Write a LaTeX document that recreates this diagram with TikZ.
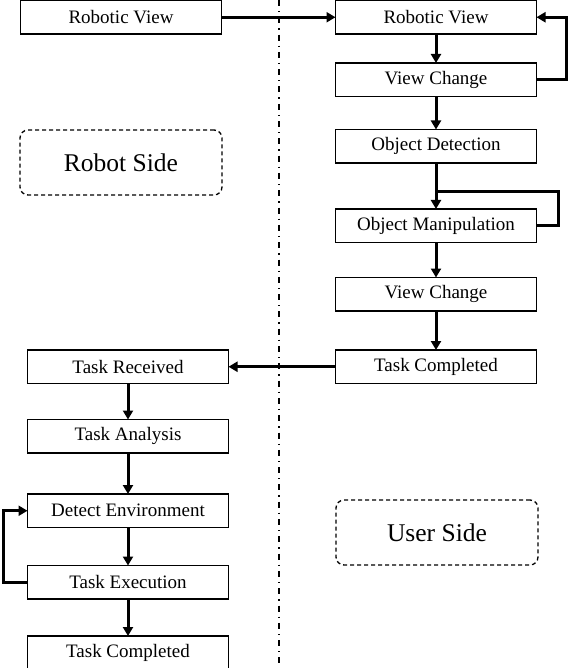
\documentclass[tikz,border=0pt]{standalone}
\usepackage{fontspec}
\setmainfont{Liberation Serif}
\usetikzlibrary{arrows.meta,positioning}

\begin{document}
\begin{tikzpicture}
    [x=1pt,y=-1pt,
    stage/.style={rectangle,draw=black,line width=1.3pt,outer sep=0pt,
    inner sep=0pt,minimum width=201pt,minimum height=33.5pt,
    font=\fontsize{19}{21}\selectfont},
    side/.style={rectangle,rounded corners=8pt,draw=black,line width=1.3pt,
    dash pattern=on 4pt off 3pt,inner sep=0pt,minimum width=202pt,
    minimum height=65pt,font=\fontsize{25.5}{29}\selectfont},
    flow/.style={-{Triangle[length=9pt,width=10pt]},line width=3pt},
    backline/.style={line width=3pt}]
    \useasboundingbox (0,0) rectangle (570,668);
    \draw[line width=1.7pt,dash pattern=on 6pt off 5pt on 1.3pt off 5pt] (279,0) -- (279,668);
    % robot side
    \node[stage] (robot view) at (121,17.25) {Robotic View};
    \node[side] (robot side) at (121,162.5) {Robot Side};
    % user side
    \node[stage] (user view) [right=114pt of robot view] {Robotic View};
    \node[stage] (change one) [below=29pt of user view] {View Change};
    \node[stage] (detection) [below=33pt of change one] {Object Detection};
    \node[stage] (manipulation) [below=46pt of detection] {Object Manipulation};
    \node[stage] (change two) [below=35pt of manipulation] {View Change};
    \node[stage] (user done) [below=39pt of change two] {Task Completed};
    \node[side] (user side) at (437,532.5) {User Side};
    % back to the robot
    \node[stage] (received) [left=107pt of user done] {Task Received};
    \node[stage] (analysis) [below=36pt of received] {Task Analysis};
    \node[stage] (environment) [below=41pt of analysis] {Detect Environment};
    \node[stage] (execution) [below=38pt of environment] {Task Execution};
    \node[stage] (robot done) [below=37pt of execution] {Task Completed};
    \coordinate (rejoin) at ([yshift=-29pt]detection.south);

    \draw[flow] (robot view) -- (user view);
    \draw[flow] (user view) -- (change one);
    \draw[flow] (change one.east) -- ++(30,0) |- (user view.east);
    \draw[flow] (change one) -- (detection);
    \draw[flow] (detection) -- (manipulation);
    \draw[backline] (manipulation.east) -- ++(22,0) |- (rejoin);
    \draw[flow] (manipulation) -- (change two);
    \draw[flow] (change two) -- (user done);
    \draw[flow] (user done) -- (received);
    \draw[flow] (received) -- (analysis);
    \draw[flow] (analysis) -- (environment);
    \draw[flow] (environment) -- (execution);
    \draw[flow] (execution.west) -- ++(-24,0) |- (environment.west);
    \draw[flow] (execution) -- (robot done);
\end{tikzpicture}
\end{document}
